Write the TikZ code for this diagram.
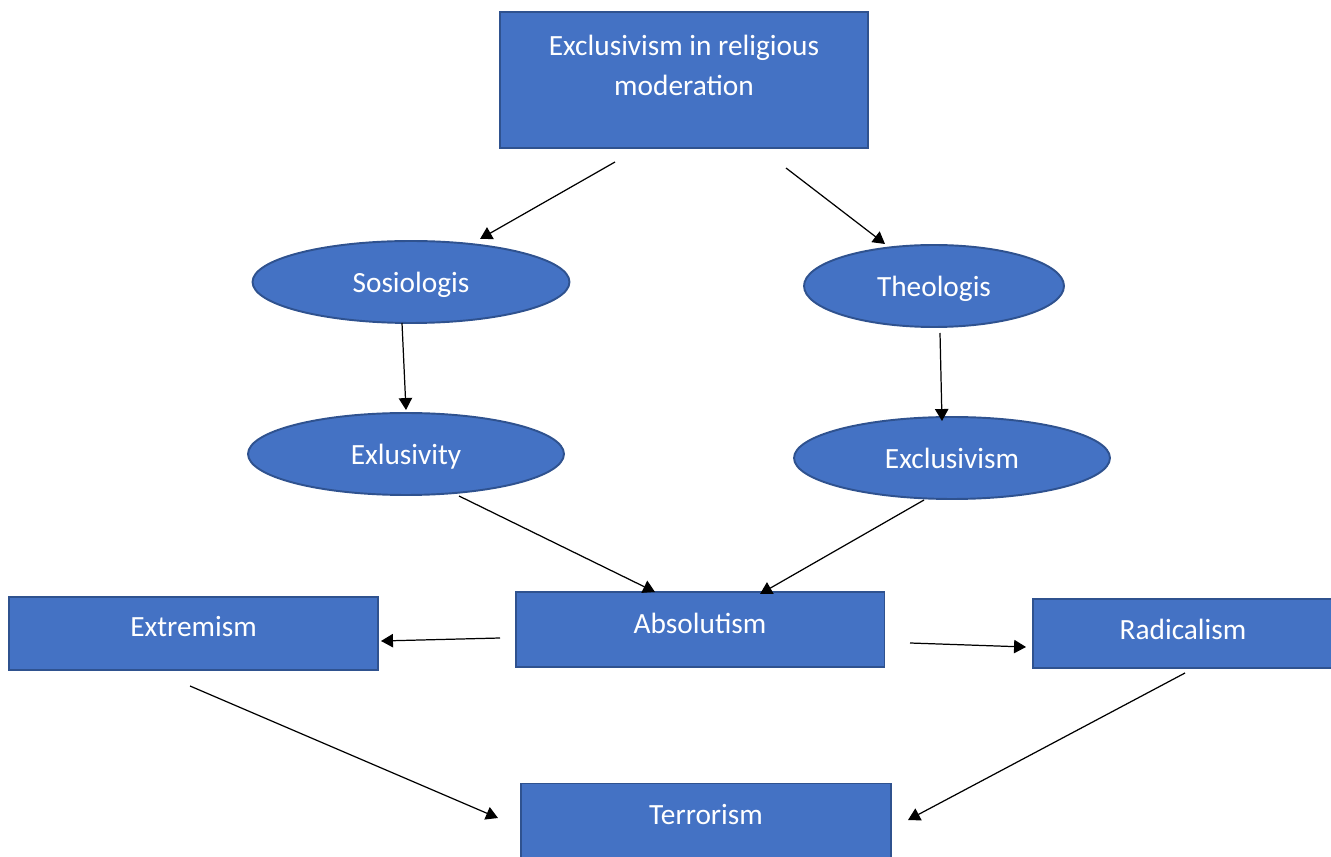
\documentclass[tikz,border=0pt]{standalone}
\usepackage{fontspec}
\setmainfont{Carlito}
\usetikzlibrary{shapes.geometric,arrows.meta}
\definecolor{boxblue}{HTML}{4472C4}
\definecolor{edgeblue}{HTML}{2F528F}
\tikzset{
  box/.style={draw=edgeblue,fill=boxblue,line width=1.1pt,inner sep=0pt},
  oval/.style={ellipse,draw=edgeblue,fill=boxblue,line width=1.1pt,inner sep=0pt,
    minimum height=1.64cm,text=white,text depth=0pt,font=\fontsize{16.7}{22.7}\selectfont},
  lbl/.style={text=white,font=\fontsize{16.7}{22.7}\selectfont,align=center,inner sep=0pt},
  arr/.style={-{Triangle[length=6.8pt,width=7.6pt]},line width=0.7pt},
}
\begin{document}
\begin{tikzpicture}[x=0.02cm,y=-0.02cm]
  \useasboundingbox (0,0) rectangle (1331,857);
  % boxes
  \node[box,minimum width=7.36cm,minimum height=2.72cm] (top) at (684,80) {};
  \node[lbl] (top-t) at (684,65) {Exclusivism in religious\\moderation};
  \node[box,minimum width=7.38cm,minimum height=1.5cm] (abs) at (700,629.5) {};
  \node[lbl] (abs-t) at (700,623) {Absolutism};
  \node[box,minimum width=7.38cm,minimum height=1.46cm] (ext) at (193.5,633.5) {};
  \node[lbl] (ext-t) at (193.5,627) {Extremism};
  \node[box,minimum width=6.0cm,minimum height=1.38cm] (rad) at (1183,633.5) {};
  \node[lbl] (rad-t) at (1183,629) {Radicalism};
  \node[box,minimum width=7.4cm,minimum height=1.9cm] (ter) at (706,831) {};
  \node[lbl] (ter-t) at (706,815) {Terrorism};
  % ellipses
  \node[oval,minimum width=6.34cm] (sos) at (411,282) {Sosiologis};
  \node[oval,minimum width=5.2cm] (theo) at (934,286) {Theologis};
  \node[oval,minimum width=6.32cm] (exl) at (406,454) {Exlusivity};
  \node[oval,minimum width=6.32cm] (exc) at (952,458) {Exclusivism};
  % arrow ends
  \coordinate (a1) at (615,162);  \coordinate (b1) at (480,239);
  \coordinate (a2) at (786,168);  \coordinate (b2) at (885,244);
  \coordinate (a3) at (402,323);  \coordinate (b3) at (406,410);
  \coordinate (a4) at (940,333);  \coordinate (b4) at (942,421);
  \coordinate (a5) at (459,496);  \coordinate (b5) at (655,592);
  \coordinate (a6) at (924,500);  \coordinate (b6) at (760,594);
  \coordinate (a7) at (500,638);  \coordinate (b7) at (381,641);
  \coordinate (a8) at (910,643);  \coordinate (b8) at (1026,647);
  \coordinate (a9) at (190,686);  \coordinate (b9) at (498,818);
  \coordinate (a10) at (1185,673); \coordinate (b10) at (908,820);
  \foreach \i in {1,...,10}
    \draw[arr] (a\i) -- (b\i);
\end{tikzpicture}
\end{document}
